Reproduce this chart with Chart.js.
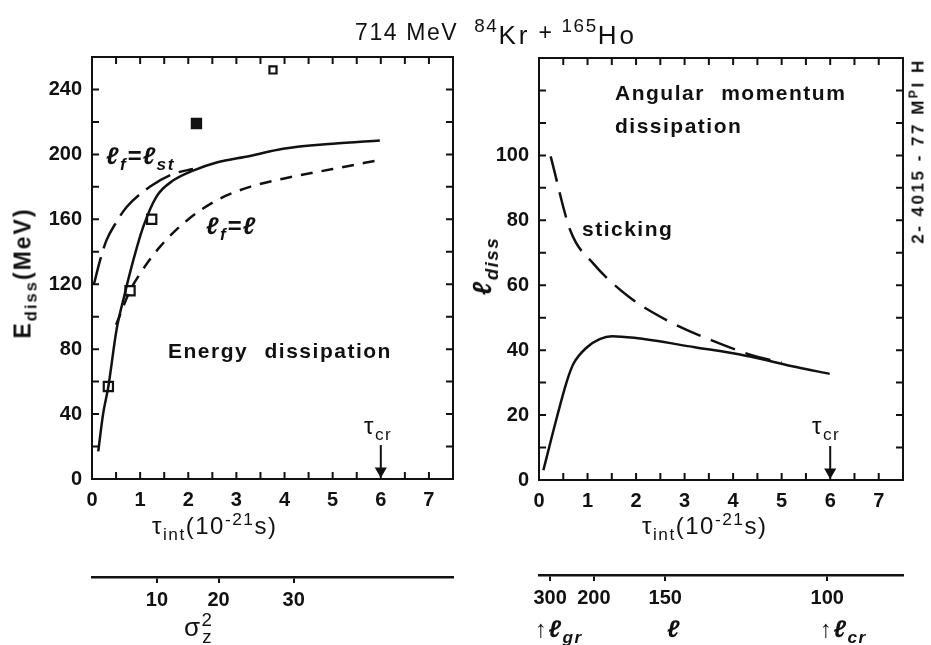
<!DOCTYPE html>
<html>
<head>
<meta charset="utf-8">
<script src="https://cdn.jsdelivr.net/npm/chart.js@4.4.1/dist/chart.umd.min.js"></script>
<style>
body{margin:0;background:#fff;width:931px;height:645px;position:relative;overflow:hidden;font-family:"Liberation Sans",Arial,sans-serif;color:#111}
canvas{position:absolute;top:0}
.t{position:absolute;white-space:nowrap;font-weight:bold;font-size:21px;letter-spacing:1.5px;line-height:1}
.r{transform:translate(-50%,-50%) rotate(-90deg)}
sub{font-size:72%;vertical-align:-0.35em;line-height:0}
sup{font-size:72%;vertical-align:0.5em;line-height:0}
.iso sup{font-size:82%;vertical-align:0.45em}
.iso span{font-size:26px;letter-spacing:3px;position:relative;top:4px}
</style>
</head>
<body>
<canvas id="left" width="470" height="645" style="left:0"></canvas>
<canvas id="right" width="471" height="645" style="left:460px"></canvas>

<div class="t iso" style="left:355px;top:18px;font-weight:normal;font-size:23px;letter-spacing:1.6px">714 MeV&nbsp; <sup>84</sup><span>Kr</span> + <sup>165</sup><span>Ho</span></div>

<div class="t r" style="left:23px;top:273px;font-size:23px;letter-spacing:2px">E<sub>diss</sub>(MeV)</div>
<div class="t" style="left:106px;top:144px;font-style:italic;font-size:24px">ℓ<sub>f</sub>=ℓ<sub>st</sub></div>
<div class="t" style="left:206px;top:214px;font-style:italic;font-size:24px">ℓ<sub>f</sub>=ℓ</div>
<div class="t" style="left:168px;top:340px;word-spacing:9px">Energy dissipation</div>
<div class="t" style="left:364px;top:414px;font-weight:normal;font-size:24px">τ<sub>cr</sub></div>
<div class="t" style="left:152px;top:514px;font-weight:normal;font-size:24px">τ<sub>int</sub>(10<sup>-21</sup>s)</div>
<div class="t" style="left:184px;top:614px;font-weight:normal;font-size:26px">σ<sup style="vertical-align:0.55em">2</sup><sub style="margin-left:-0.6em">z</sub></div>

<div class="t r" style="left:482px;top:266px;font-style:italic;font-size:26px">ℓ<sub>diss</sub></div>
<div class="t" style="left:615px;top:82px;word-spacing:9px">Angular momentum</div>
<div class="t" style="left:615px;top:115px">dissipation</div>
<div class="t" style="left:582px;top:218px">sticking</div>
<div class="t" style="left:812px;top:414px;font-weight:normal;font-size:24px">τ<sub>cr</sub></div>
<div class="t" style="left:642px;top:514px;font-weight:normal;font-size:24px">τ<sub>int</sub>(10<sup>-21</sup>s)</div>
<div class="t" style="left:535px;top:617px;font-style:italic;font-size:24px">↑ℓ<sub>gr</sub></div>
<div class="t" style="left:667px;top:617px;font-style:italic;font-size:24px">ℓ</div>
<div class="t" style="left:820px;top:617px;font-style:italic;font-size:24px">↑ℓ<sub>cr</sub></div>
<div class="t r" style="left:918px;top:151px;font-size:17px;letter-spacing:2.5px">2- 4015 - 77 M<sup>P</sup>I H</div>

<script>
// energy dissipation panel (tau in 1e-21 s, E in MeV)
const tauSolidE=[0.13,0.23,0.34,0.51,0.68,0.86,1.06,1.34,1.69,2.10,2.59,3.28,3.97,5.0,5.98]
const eSolid=[17,40,57,92,114,135,155,174,184,190,195,199,203.5,206.6,208.6]
const tauStickE=[0.04,0.17,0.30,0.5,0.72,1.2,1.69,2.1]
const eStick=[120,135,147,158,167.6,180,188,191]
const tauFreeE=[0.5,0.79,1.0,1.41,1.96,2.59,3.28,3.97,5.0,6.0]
const eFree=[95,116,126.6,143,159,171.7,180,185,191,196.7]
const tauExp=[0.34,0.79,1.24,2.17,3.76]
const eExp=[57,116,160,219,252]

// angular momentum panel
const tauSolidL=[0.09,0.37,0.58,0.71,0.99,1.25,1.5,1.96,3.21,4.26,5.30,5.99]
const lSolid=[3,19.4,30.7,35.8,40.9,43.4,44.3,43.8,40.9,38.3,34.8,32.7]
const tauStickL=[0.24,0.65,1.13,1.83,2.66,3.56,4.53,5.0]
const lStick=[99.7,76.7,66.5,56.7,49,43,37.8,36.3]

// tau_cr arrows
const tauCr=[6,6]
const arrowE=[21,5]
const arrowL=[10.5,2.5]

// secondary bottom axes
const sigmaLabels=['10','20','30']
const sigmaTau=[1.35,2.63,4.19]
const ellLabels=['300','200','150','100']
const ellTau=[0.23,1.13,2.6,5.94]

const ink='#111'
const tickFont={family:'"Liberation Sans", Arial, sans-serif',size:20,weight:'bold'}

function pts(xs,ys){return xs.map((x,i)=>({x:x,y:ys[i]}))}

const inTicks={
  id:'inTicks',
  afterDraw(c,args,o){
    const ctx=c.ctx,a=c.chartArea,x=c.scales.x,y=c.scales.y
    ctx.save()
    ctx.strokeStyle=ink
    ctx.lineWidth=2
    ctx.strokeRect(a.left,a.top,a.right-a.left,a.bottom-a.top)
    ctx.beginPath()
    for(let v=x.min;v<=x.max+1e-6;v+=o.dx){
      const p=x.getPixelForValue(v)
      ctx.moveTo(p,a.top);ctx.lineTo(p,a.top+7)
      ctx.moveTo(p,a.bottom);ctx.lineTo(p,a.bottom-7)
    }
    for(let v=y.min;v<=y.max+1e-6;v+=o.dy){
      const p=y.getPixelForValue(v)
      ctx.moveTo(a.left,p);ctx.lineTo(a.left+7,p)
      ctx.moveTo(a.right,p);ctx.lineTo(a.right-7,p)
    }
    ctx.stroke()
    ctx.restore()
  }
}

function line(data,dash){
  return {data:data,borderColor:ink,borderWidth:2.5,borderDash:dash,pointRadius:0,
    cubicInterpolationMode:'monotone',fill:false}
}

function arrow(xs,ys){
  return {data:pts(xs,ys),borderColor:ink,backgroundColor:ink,borderWidth:2,
    pointRadius:[0,5],pointStyle:'triangle',rotation:180}
}

function makeChart(id,o){
  return new Chart(document.getElementById(id),{
    type:'line',
    data:{datasets:o.datasets},
    plugins:[inTicks],
    options:{
      responsive:false,
      animation:false,
      devicePixelRatio:1,
      layout:{padding:o.pad},
      plugins:{legend:{display:false},tooltip:{enabled:false},inTicks:{dx:0.5,dy:o.dy}},
      scales:{
        x:{type:'linear',min:0,max:7.5,
          afterBuildTicks:s=>{s.ticks=[0,1,2,3,4,5,6,7].map(v=>({value:v}))},
          afterFit:s=>{s.height=o.xh},
          grid:{display:false,drawTicks:false},border:{display:false},
          ticks:{font:tickFont,color:ink,padding:9,maxRotation:0,autoSkip:false}},
        x2:{type:'linear',position:'bottom',weight:10,min:0,max:7.5,
          afterBuildTicks:s=>{s.ticks=o.x2pos.map(v=>({value:v}))},
          afterFit:s=>{s.height=o.x2h},
          grid:{display:true,drawOnChartArea:false,drawTicks:true,tickLength:6,color:ink,lineWidth:2},
          border:{display:true,color:ink,width:2.5},
          ticks:{font:tickFont,color:ink,padding:5,maxRotation:0,autoSkip:false,
            callback:(v,i)=>o.x2lab[i]}},
        y:{type:'linear',min:0,max:o.ymax,
          afterBuildTicks:s=>{s.ticks=o.ylab.map(v=>({value:v}))},
          afterFit:s=>{s.width=o.yw},
          grid:{display:false,drawTicks:false},border:{display:false},
          ticks:{font:tickFont,color:ink,padding:10}}
      }
    }
  })
}

makeChart('left',{
  pad:{top:57,right:17,left:0,bottom:0},yw:92,xh:98,x2h:68,ymax:260,dy:20,
  ylab:[0,40,80,120,160,200,240],x2pos:sigmaTau,x2lab:sigmaLabels,
  datasets:[
    line(pts(tauSolidE,eSolid),[]),
    line(pts(tauStickE,eStick),[28,9]),
    line(pts(tauFreeE,eFree),[12,9]),
    {data:pts(tauExp,eExp),showLine:false,pointStyle:'rect',
      pointRadius:[6.5,6.5,6.5,6.5,5],borderColor:ink,borderWidth:2.2,
      pointBackgroundColor:['#fff','#fff','#fff',ink,'#fff']},
    arrow(tauCr,arrowE)
  ]
})

makeChart('right',{
  pad:{top:58,right:28,left:0,bottom:0},yw:79,xh:95,x2h:70,ymax:130,dy:10,
  ylab:[0,20,40,60,80,100],x2pos:ellTau,x2lab:ellLabels,
  datasets:[
    line(pts(tauSolidL,lSolid),[]),
    line(pts(tauStickL,lStick),[26,11]),
    arrow(tauCr,arrowL)
  ]
})
</script>
</body>
</html>
